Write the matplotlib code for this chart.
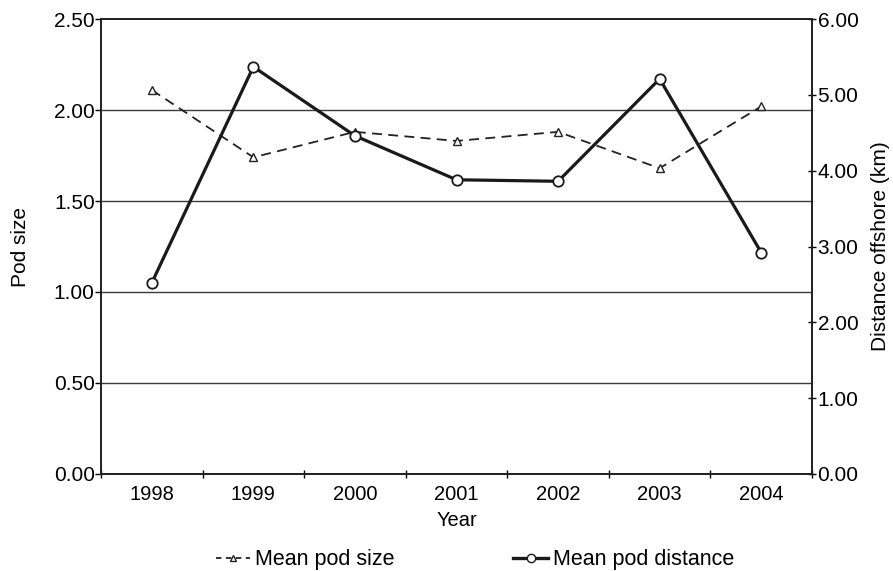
import matplotlib
matplotlib.use("Agg")
import matplotlib.pyplot as plt
from matplotlib.lines import Line2D

plt.rcParams['font.family'] = ['Liberation Sans', 'DejaVu Sans']

# data
years = ['1998', '1999', '2000', '2001', '2002', '2003', '2004']
pod_size = [2.11, 1.74, 1.88, 1.83, 1.88, 1.68, 2.02]
pod_distance = [2.52, 5.37, 4.46, 3.88, 3.86, 5.21, 2.92]

fig = plt.figure(figsize=(8.93, 5.71), dpi=100)
ax = fig.add_axes([0.1131, 0.1699, 0.7962, 0.7968])
ax2 = ax.twinx()

x = list(range(len(years)))

# gridlines on the left axis
ax.set_ylim(0, 2.5)
ax.set_yticks([0, 0.5, 1.0, 1.5, 2.0, 2.5])
ax.set_yticklabels(['{:.2f}'.format(v) for v in ax.get_yticks()])
for v in [0.5, 1.0, 1.5, 2.0]:
    ax.axhline(v, color='#3a3a3a', lw=1.0, zorder=0)

ax.plot(x, pod_size, color='#222222', lw=1.3, ls=(0, (5.5, 3.5)),
        marker='^', markersize=6, markerfacecolor='white',
        markeredgecolor='#222222', markeredgewidth=1.0, zorder=3)

ax2.set_ylim(0, 6)
ax2.set_yticks([0, 1, 2, 3, 4, 5, 6])
ax2.set_yticklabels(['{:.2f}'.format(v) for v in ax2.get_yticks()])
ax2.plot(x, pod_distance, color='#1a1a1a', lw=2.3, marker='o', markersize=7.5,
         markerfacecolor='white', markeredgecolor='#1a1a1a',
         markeredgewidth=1.3, zorder=4)

ax.set_xlim(-0.5, len(years) - 0.5)
ax.set_xticks(x)
ax.set_xticklabels(years)
ax.set_xticks([i - 0.5 for i in range(len(years) + 1)], minor=True)
ax.tick_params(axis='x', which='major', length=0, labelsize=14.5, pad=8)
ax.tick_params(axis='x', which='minor', length=6, direction='inout', width=1.0)
ax.tick_params(axis='y', length=4, width=1.0, labelsize=15, pad=0.5)
ax2.tick_params(axis='y', length=6, width=1.0, direction='inout', labelsize=15, pad=1)

for a in (ax, ax2):
    for s in a.spines.values():
        s.set_linewidth(1.3)
        s.set_color('#222222')

ax.set_xlabel('Year', fontsize=14.5, labelpad=5)
ax.set_ylabel('Pod size', fontsize=15, labelpad=17)
ax2.set_ylabel('Distance offshore (km)', fontsize=15, labelpad=9)

handles = [
    Line2D([], [], color='#222222', lw=1.3, ls=(0, (3, 2.5)), marker='^',
           markersize=5, markerfacecolor='white', markeredgecolor='#222222'),
    Line2D([], [], color='#1a1a1a', lw=2.4, marker='o', markersize=6,
           markerfacecolor='white', markeredgecolor='#1a1a1a'),
]
fig.legend(handles, ['Mean pod size', 'Mean pod distance'], loc='center',
           bbox_to_anchor=(0.532, 0.02), ncol=2, frameon=False, fontsize=15.5,
           columnspacing=5.5, handlelength=1.6, handletextpad=0.25,
           borderpad=0, borderaxespad=0)

fig.savefig('out.png', dpi=100)
